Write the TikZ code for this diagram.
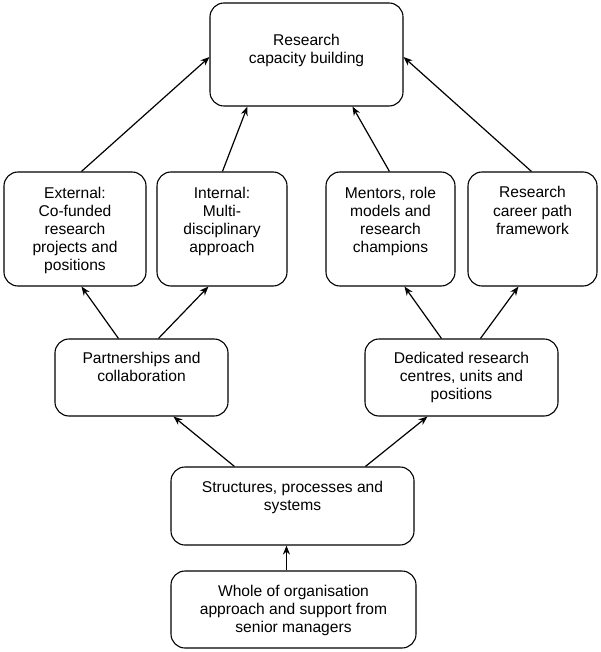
\documentclass[tikz,border=0pt]{standalone}
\usepackage{fontspec}
\setmainfont{Liberation Sans}
\usetikzlibrary{arrows.meta}
\tikzset{
  x=1pt, y=-1pt,
  box/.style={draw=black, line width=1.1pt, rounded corners=14pt, inner sep=0pt, fill=white},
  txt/.style={align=center, inner sep=0pt, anchor=base, font=\fontsize{15.6}{18}\selectfont},
  arr/.style={draw=black, line width=1.2pt, -{Stealth[length=9pt,width=7pt]}}
}
\begin{document}
\begin{tikzpicture}
\useasboundingbox (0,0) rectangle (600,652);
\fill[white] (0,0) rectangle (600,652);
% boxes
\node[box, minimum width=193pt, minimum height=103pt] (top) at (306.5,54.5) {};
\node[box, minimum width=142pt, minimum height=114pt] (ext) at (75,229) {};
\node[box, minimum width=130pt, minimum height=114pt] (int) at (222,229) {};
\node[box, minimum width=129pt, minimum height=114pt] (men) at (390.5,229) {};
\node[box, minimum width=129pt, minimum height=114pt] (car) at (532.5,229) {};
\node[box, minimum width=173pt, minimum height=77pt] (par) at (141.5,377.5) {};
\node[box, minimum width=193pt, minimum height=77pt] (ded) at (461.5,377.5) {};
\node[box, minimum width=243pt, minimum height=78pt] (str) at (292.5,506) {};
\node[box, minimum width=245pt, minimum height=77pt] (who) at (293.5,609.5) {};
% texts (anchor base = baseline of the last line)
\node[txt] (topt) at (306.5,64) {Research\\capacity building};
\node[txt] (extt) at (75,270) {External:\\Co-funded\\research\\projects and\\positions};
\node[txt] (intt) at (222,252) {Internal:\\Multi-\\disciplinary\\approach};
\node[txt] (ment) at (390.5,252) {Mentors, role\\models and\\research\\champions};
\node[txt] (cart) at (532.5,234) {Research\\career path\\framework};
\node[txt] (part) at (141.5,381) {Partnerships and\\collaboration};
\node[txt] (dedt) at (461.5,399) {Dedicated research\\centres, units and\\positions};
\node[txt] (strt) at (292.5,510) {Structures, processes and\\systems};
\node[txt] (whot) at (293.5,632) {Whole of organisation\\approach and support from\\senior managers};
% arrows
\draw[arr] ([xshift=78pt]ext.north west) -- ([yshift=-2.5pt]top.west);
\draw[arr] ([xshift=66pt]int.north west) -- ([xshift=38pt]top.south west);
\draw[arr] ([xshift=64pt]men.north west) -- ([xshift=143pt]top.south west);
\draw[arr] ([xshift=64pt]car.north west) -- ([yshift=-2.5pt]top.east);
\draw[arr] ([xshift=64pt]par.north west) -- ([xshift=78pt]ext.south west);
\draw[arr] ([xshift=104pt]par.north west) -- ([xshift=52pt]int.south west);
\draw[arr] ([xshift=77pt]ded.north west) -- ([xshift=79pt]men.south west);
\draw[arr] ([xshift=116pt]ded.north west) -- ([xshift=51pt]car.south west);
\draw[arr] ([xshift=64pt]str.north west) -- ([xshift=119pt]par.south west);
\draw[arr] ([xshift=195pt]str.north west) -- ([xshift=63pt]ded.south west);
\draw[arr] ([xshift=116pt]who.north west) -- ([xshift=116pt]str.south west);
\end{tikzpicture}
\end{document}
